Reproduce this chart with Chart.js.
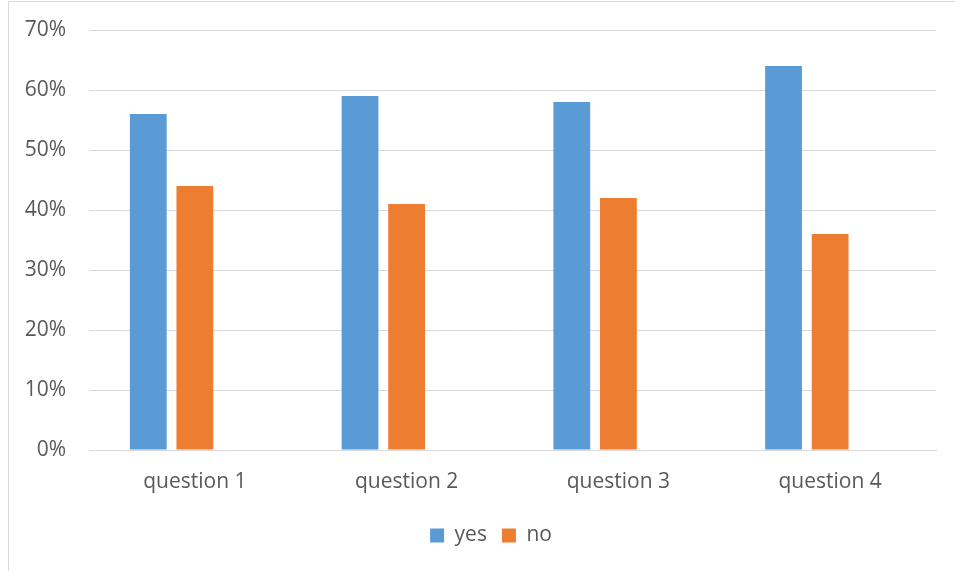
<!DOCTYPE html>
<html>
<head>
<meta charset="utf-8">
<script src="https://cdn.jsdelivr.net/npm/chart.js@4"></script>
<style>
  body { margin: 0; background: #fff; }
  #frame { position: absolute; left: 8px; top: 1px; width: 1000px; height: 600px; border: 1px solid #d9d9d9; }
  #wrap { position: absolute; left: 0; top: 0; width: 955px; height: 571px; }
</style>
</head>
<body>
<div id="frame"></div>
<div id="wrap"><canvas id="chart" width="955" height="571"></canvas></div>
<script>
// chart data
const categories = ['question 1', 'question 2', 'question 3', 'question 4'];
const yesValues = [56, 59, 58, 64];
const noValues = [44, 41, 42, 36];
const blankValues = [null, null, null, null]; // empty third series that Excel left in
const yTicks = [0, 10, 20, 30, 40, 50, 60, 70];

const textColor = '#595959';
const gridColor = '#d9d9d9';
const font = { family: 'Open Sans', size: 21 };

// the original legend sits a bit right of centre
const shiftLegend = {
    id: 'shiftLegend',
    afterLayout: function (chart) {
        chart.legend.left += 23;
        chart.legend.right += 23;
    }
};

let ctx = document.getElementById('chart').getContext('2d');
new Chart(ctx, {
    type: 'bar',
    data: {
        labels: categories,
        datasets: [
            { label: 'yes', data: yesValues, backgroundColor: '#5b9bd5' },
            { label: 'no', data: noValues, backgroundColor: '#ed7d31' },
            { label: '', data: blankValues, backgroundColor: 'transparent' }
        ]
    },
    plugins: [shiftLegend],
    options: {
        responsive: false,
        animation: false,
        datasets: { bar: { categoryPercentage: 0.66, barPercentage: 0.79 } },
        layout: { padding: { top: 30, right: 19, left: 0, bottom: 15 } },
        plugins: {
            tooltip: { enabled: false },
            legend: {
                position: 'bottom',
                labels: {
                    color: textColor,
                    font: font,
                    boxWidth: 14,
                    boxHeight: 14,
                    padding: 15,
                    filter: function (item) { return item.text !== ''; }
                }
            }
        },
        scales: {
            x: {
                afterFit: function (axis) { axis.height = 60; },
                grid: { display: false },
                border: { color: gridColor },
                ticks: { color: textColor, font: font, padding: 11 }
            },
            y: {
                min: 0,
                max: 70,
                afterBuildTicks: function (axis) { axis.ticks = yTicks.map(v => ({ value: v })); },
                afterFit: function (axis) {
                    axis.width = 89;
                    axis.paddingTop = 0;
                    axis.paddingBottom = 0;
                },
                grid: { color: gridColor, drawTicks: false },
                border: { display: false },
                ticks: {
                    color: textColor,
                    font: font,
                    padding: 23,
                    callback: function (v) { return v + '%'; }
                }
            }
        }
    }
});
</script>
</body>
</html>
